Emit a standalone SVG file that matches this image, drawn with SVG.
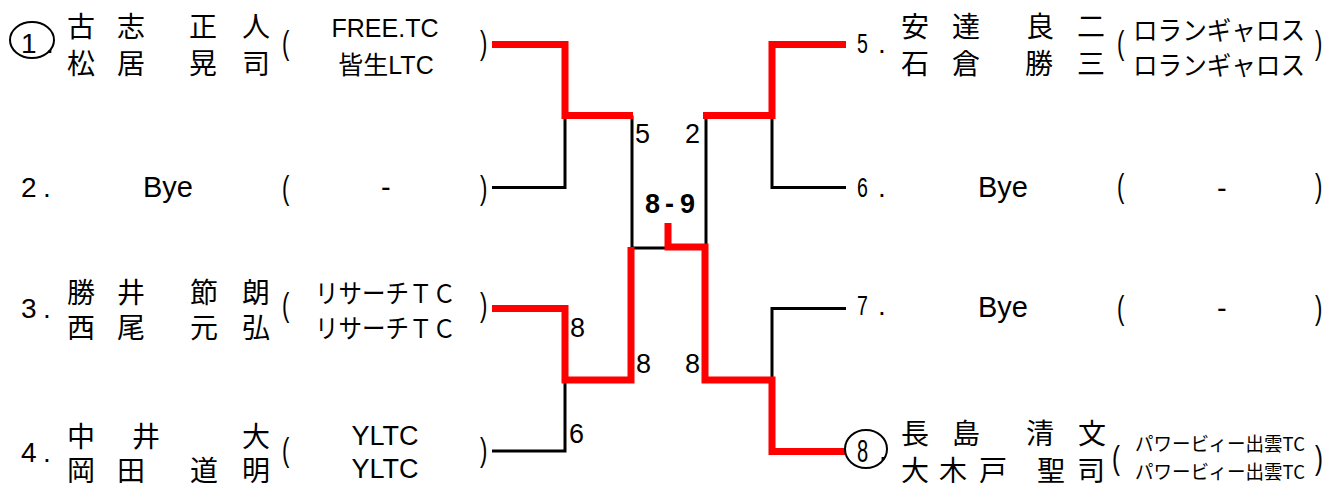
<svg xmlns="http://www.w3.org/2000/svg" width="1325" height="483" viewBox="0 0 1325 483">
<style>
text{font-family:"Liberation Sans","Noto Sans CJK JP",sans-serif;fill:#000}
.nm{font-family:"Noto Sans CJK JP",sans-serif;font-size:28px}
.tm{font-size:25px}
.tk{font-family:"Noto Sans CJK JP",sans-serif;font-size:26px}
.tp{font-family:"Noto Sans CJK JP",sans-serif;font-size:19px}
.pr{font-size:34px}
.by{font-size:29px}
.lb{font-size:28px}
.sc{font-size:27px}
.sb{font-size:27px;font-weight:bold}
.ln{fill:none;stroke:#000;stroke-width:3}
.rd{fill:none;stroke:#f00;stroke-width:7;stroke-linejoin:miter;stroke-linecap:butt}
.el{fill:none;stroke:#000;stroke-width:2}
</style>
<g id="connectors">
<path class="ln" d="M492,187.5 H565 V115.5"/>
<path class="ln" d="M492,451 H565 V380"/>
<path class="ln" d="M632,115.5 V248 H668"/>
<path class="ln" d="M706,115.5 V248"/>
<path class="ln" d="M846,187.5 H772 V115.5"/>
<path class="ln" d="M846,308.5 H772 V380"/>
<path class="rd" d="M492,44.5 H565 V115.5 H633"/>
<path class="rd" d="M703,115.5 H772 V41"/>
<path class="rd" d="M772,44.5 H846"/>
<path class="rd" d="M668,223 V247 H705 V380 H772 V451.5 H846"/>
<path class="rd" d="M492,308.5 H565 V380 H631 V247"/>
</g>
<g id="scores">
<text class="sc" x="635" y="143">5</text>
<text class="sc" x="685" y="143">2</text>
<text class="sb"><tspan x="645" y="213">8</tspan><tspan x="665" y="213">-</tspan><tspan x="680" y="213">9</tspan></text>
<text class="sc" x="570" y="337">8</text>
<text class="sc" x="636" y="373">8</text>
<text class="sc" x="685" y="373">8</text>
<text class="sc" x="569" y="443">6</text>
</g>
<g id="entry1">
<ellipse class="el" cx="32" cy="40" rx="22" ry="18"/>
<text class="lb" x="21" y="53">1</text>
<text class="lb" x="46" y="53">.</text>
<text class="nm" x="67 117 189 242" y="37">古志正人</text>
<text class="nm" x="67 117 189 242" y="74">松居晃司</text>
<text class="pr" transform="translate(282,54) scale(0.65,1)">(</text>
<text class="tm" x="385" y="37" text-anchor="middle">FREE.TC</text>
<text class="tm" x="386" y="74" text-anchor="middle">皆生LTC</text>
<text class="pr" transform="translate(480,54) scale(0.65,1)">)</text>
</g>
<g id="entry2">
<text class="lb" x="21" y="197">2</text>
<text class="lb" x="43" y="197">.</text>
<text class="by" x="143" y="197">Bye</text>
<text class="pr" transform="translate(282,199) scale(0.65,1)">(</text>
<text class="by" x="381" y="197">-</text>
<text class="pr" transform="translate(480,199) scale(0.65,1)">)</text>
</g>
<g id="entry3">
<text class="lb" x="21" y="318">3</text>
<text class="lb" x="43" y="318">.</text>
<text class="nm" x="67 117 190 242" y="303">勝井節朗</text>
<text class="nm" x="67 117 190 242" y="338">西尾元弘</text>
<text class="pr" transform="translate(282,316) scale(0.65,1)">(</text>
<text class="tk" x="315" y="303" textLength="141" lengthAdjust="spacingAndGlyphs">リサーチＴＣ</text>
<text class="tk" x="315" y="338" textLength="141" lengthAdjust="spacingAndGlyphs">リサーチＴＣ</text>
<text class="pr" transform="translate(480,316) scale(0.65,1)">)</text>
</g>
<g id="entry4">
<text class="lb" x="21" y="462">4</text>
<text class="lb" x="43" y="462">.</text>
<text class="nm" x="67 132 242" y="447">中井大</text>
<text class="nm" x="67 117 190 242" y="481">岡田道明</text>
<text class="pr" transform="translate(282,461) scale(0.65,1)">(</text>
<text class="tm" x="385" y="445" text-anchor="middle" style="font-size:27px">YLTC</text>
<text class="tm" x="385" y="478" text-anchor="middle" style="font-size:27px">YLTC</text>
<text class="pr" transform="translate(480,461) scale(0.65,1)">)</text>
</g>
<g id="entry5">
<text class="lb" transform="translate(857,53) scale(0.7,1)">5</text>
<text class="lb" x="878" y="53">.</text>
<text class="nm" x="901 952 1026 1077" y="37">安達良二</text>
<text class="nm" x="901 952 1025 1077" y="74">石倉勝三</text>
<text class="pr" transform="translate(1117,54) scale(0.65,1)">(</text>
<text class="tk" x="1133" y="40" textLength="172" lengthAdjust="spacingAndGlyphs">ロランギャロス</text>
<text class="tk" x="1133" y="75" textLength="172" lengthAdjust="spacingAndGlyphs">ロランギャロス</text>
<text class="pr" transform="translate(1315,54) scale(0.65,1)">)</text>
</g>
<g id="entry6">
<text class="lb" transform="translate(857,197) scale(0.7,1)">6</text>
<text class="lb" x="878" y="197">.</text>
<text class="by" x="978" y="197">Bye</text>
<text class="pr" transform="translate(1117,197) scale(0.65,1)">(</text>
<text class="by" x="1217" y="198">-</text>
<text class="pr" transform="translate(1315,197) scale(0.65,1)">)</text>
</g>
<g id="entry7">
<text class="lb" transform="translate(857,315) scale(0.7,1)">7</text>
<text class="lb" x="878" y="315">.</text>
<text class="by" x="978" y="317">Bye</text>
<text class="pr" transform="translate(1117,319) scale(0.65,1)">(</text>
<text class="by" x="1217" y="318">-</text>
<text class="pr" transform="translate(1315,319) scale(0.65,1)">)</text>
</g>
<g id="entry8">
<ellipse class="el" cx="866" cy="449" rx="21" ry="19"/>
<text class="lb" transform="translate(857,462) scale(0.65,1)" style="font-size:31px">8</text>
<text class="lb" x="879" y="460">.</text>
<text class="nm" x="901 952 1026 1078" y="444">長島清文</text>
<text class="nm" x="901 939 979 1037 1077" y="481">大木戸聖司</text>
<text class="pr" transform="translate(1112,469) scale(0.7,1)">(</text>
<text class="tp" x="1135" y="451" textLength="170" lengthAdjust="spacingAndGlyphs">パワービィー出雲TC</text>
<text class="tp" x="1135" y="479" textLength="170" lengthAdjust="spacingAndGlyphs">パワービィー出雲TC</text>
<text class="pr" transform="translate(1315,469) scale(0.7,1)">)</text>
</g>
</svg>
